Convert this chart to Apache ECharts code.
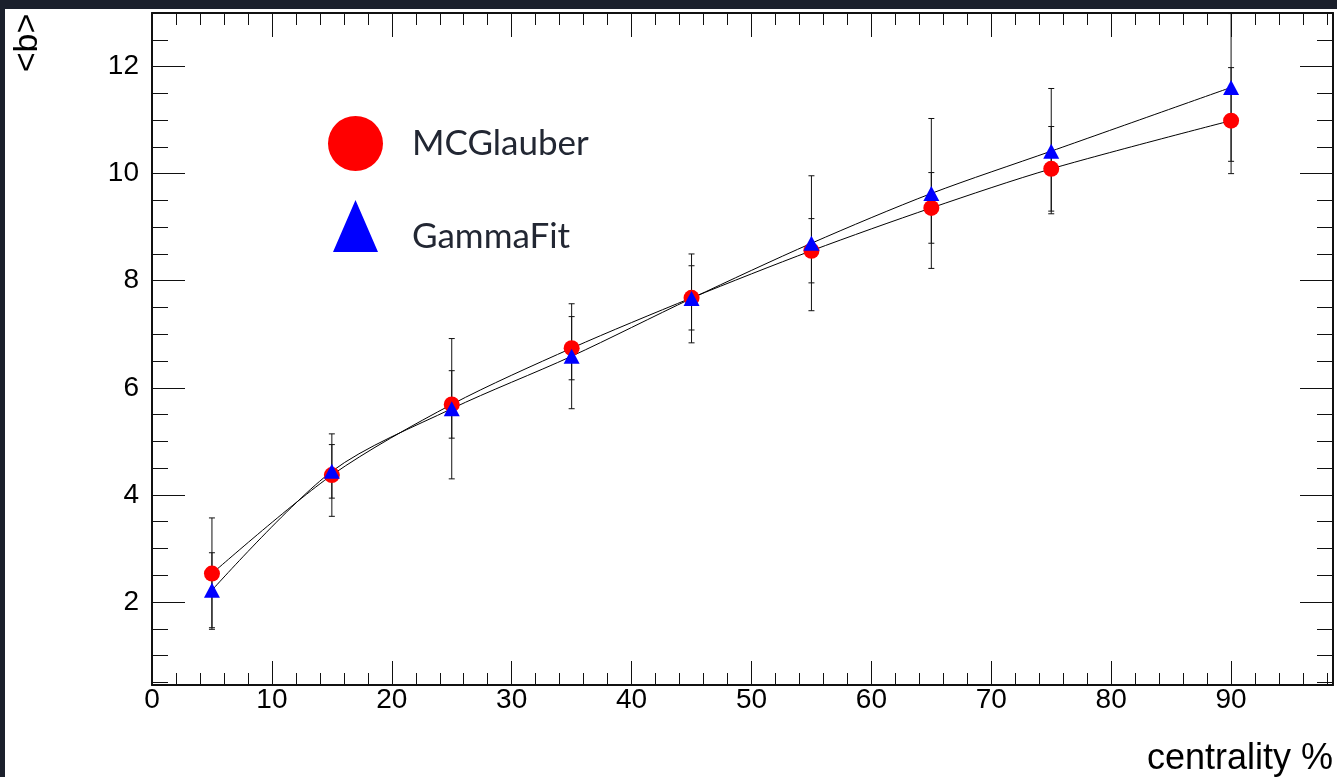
<!DOCTYPE html>
<html>
<head>
<meta charset="utf-8">
<script src="https://cdn.jsdelivr.net/npm/echarts@6/dist/echarts.min.js"></script>
<style>
  html, body { margin:0; padding:0; width:1337px; height:777px; background:#1b202c; overflow:hidden; }
  #chart { position:absolute; left:5px; top:9px; width:1332px; height:768px; background:#ffffff; }
</style>
</head>
<body>
<div id="chart"></div>
<script>
// ---- data ----
const centrality     = [5, 15, 25, 35, 45, 55, 65, 75, 90];
const mcglauberB     = [2.53, 4.37, 5.69, 6.74, 7.68, 8.56, 9.36, 10.09, 10.99];
const mcglauberErr   = [1.04, 0.77, 0.63, 0.59, 0.60, 0.60, 0.66, 0.79, 0.99];
const gammafitB      = [2.22, 4.44, 5.61, 6.59, 7.67, 8.70, 9.63, 10.42, 11.61];
const gammafitErr    = [0.70, 0.50, 1.31, 0.98, 0.83, 1.26, 1.40, 1.17, 1.38];
const xMajorTicks    = [0, 10, 20, 30, 40, 50, 60, 70, 80, 90];
const xMinorTicks    = [2,4,6,8,12,14,16,18,22,24,26,28,32,34,36,38,42,44,46,48,52,54,56,58,62,64,66,68,72,74,76,78,82,84,86,88,92,94,96,98];
const yMajorTicks    = [2, 4, 6, 8, 10, 12];
const yMinorTicks    = [0.5,1,1.5,2.5,3,3.5,4.5,5,5.5,6.5,7,7.5,8.5,9,9.5,10.5,11,11.5,12.5];
const xRange = [0, 98.5];
const yRange = [0.45, 13.0];

const pts = (xs, ys) => xs.map((x, i) => [x, ys[i]]);
const errPts = (xs, ys, es) => xs.map((x, i) => [x, ys[i], es[i]]);

const AX = '#111111';
const FONT = 'Liberation Sans';

function xAxisDef(pos, vals, len, showLine, labels) {
  return {
    type: 'value', position: pos, min: xRange[0], max: xRange[1],
    axisLine: { show: showLine, onZero: false, lineStyle: { color: AX, width: 2 } },
    axisTick: { show: true, inside: true, length: len, customValues: vals, lineStyle: { color: AX, width: 1 } },
    axisLabel: labels ? { show: true, customValues: vals, fontFamily: FONT, fontSize: 28, color: '#000', margin: 1 } : { show: false },
    splitLine: { show: false }
  };
}
function yAxisDef(pos, vals, len, showLine, labels) {
  return {
    type: 'value', position: pos, min: yRange[0], max: yRange[1],
    axisLine: { show: showLine, onZero: false, lineStyle: { color: AX, width: 2 } },
    axisTick: { show: true, inside: true, length: len, customValues: vals, lineStyle: { color: AX, width: 1 } },
    axisLabel: labels ? { show: true, customValues: vals, fontFamily: FONT, fontSize: 28, color: '#000', margin: 13 } : { show: false },
    splitLine: { show: false }
  };
}

function errorBarSeries(name, data) {
  return {
    type: 'custom', name: name, xAxisIndex: 0, yAxisIndex: 0, z: 3, clip: true,
    data: data,
    renderItem: function (params, api) {
      const x = api.value(0), y = api.value(1), e = api.value(2);
      const hi = api.coord([x, y + e]);
      const lo = api.coord([x, y - e]);
      const cap = 3;
      const st = { stroke: '#111', lineWidth: 1 };
      return {
        type: 'group',
        children: [
          { type: 'line', shape: { x1: hi[0], y1: hi[1], x2: lo[0], y2: lo[1] }, style: st },
          { type: 'line', shape: { x1: hi[0] - cap, y1: hi[1], x2: hi[0] + cap, y2: hi[1] }, style: st },
          { type: 'line', shape: { x1: lo[0] - cap, y1: lo[1], x2: lo[0] + cap, y2: lo[1] }, style: st }
        ]
      };
    }
  };
}

const chart = echarts.init(document.getElementById('chart'), null, { renderer: 'canvas' });
chart.setOption({
  animation: false,
  backgroundColor: '#ffffff',
  grid: { left: 147, top: 4, right: 4, bottom: 92, containLabel: false },
  xAxis: [
    xAxisDef('bottom', xMajorTicks, 24, true, true),
    xAxisDef('bottom', xMinorTicks, 12, false, false),
    xAxisDef('top', xMajorTicks, 24, true, false),
    xAxisDef('top', xMinorTicks, 12, false, false)
  ],
  yAxis: [
    yAxisDef('left', yMajorTicks, 33, true, true),
    yAxisDef('left', yMinorTicks, 16, false, false),
    yAxisDef('right', yMajorTicks, 33, true, false),
    yAxisDef('right', yMinorTicks, 16, false, false)
  ],
  legend: [
    {
      data: ['MCGlauber'], left: 323, top: 107, padding: 0, orient: 'vertical', selectedMode: false,
      icon: 'circle', itemWidth: 55, itemHeight: 55,
      textStyle: { fontFamily: 'Lato', fontSize: 35, color: '#222733', padding: [0, 0, 0, 24] }
    },
    {
      data: ['GammaFit'], left: 328, top: 191, padding: 0, orient: 'vertical', selectedMode: false,
      // triangle occupying the top 52px of a 74px-tall icon box, so the label sits lower
      icon: 'path://M22.5,0 L45,52 L0,52 Z M22.5,74 L22.5,74 Z', itemWidth: 45, itemHeight: 74,
      textStyle: { fontFamily: 'Lato', fontSize: 35, color: '#222733', padding: [0, 0, 0, 29] }
    }
  ],
  graphic: [
    { type: 'text', x: 23, y: 34, rotation: Math.PI / 2,
      style: { text: '<b>', font: '34px "Liberation Sans"', fill: '#000', align: 'center', verticalAlign: 'middle' } },
    { type: 'text', x: 1328, y: 750,
      style: { text: 'centrality %', font: '36px "Liberation Sans"', fill: '#000', align: 'right', verticalAlign: 'middle' } }
  ],
  series: [
    { type: 'line', name: 'MCGlauber curve', data: pts(centrality, mcglauberB), smooth: 0.3, showSymbol: false, symbol: 'none',
      lineStyle: { color: '#000', width: 1 }, z: 2, silent: true },
    { type: 'line', name: 'GammaFit curve', data: pts(centrality, gammafitB), smooth: 0.3, showSymbol: false, symbol: 'none',
      lineStyle: { color: '#000', width: 1 }, z: 2, silent: true },
    errorBarSeries('MCGlauber err', errPts(centrality, mcglauberB, mcglauberErr)),
    errorBarSeries('GammaFit err', errPts(centrality, gammafitB, gammafitErr)),
    { type: 'scatter', name: 'MCGlauber', data: pts(centrality, mcglauberB), symbol: 'circle', symbolSize: 16,
      itemStyle: { color: '#ff0000', opacity: 1 }, z: 4 },
    { type: 'scatter', name: 'GammaFit', data: pts(centrality, gammafitB), symbol: 'triangle', symbolSize: [16, 15],
      itemStyle: { color: '#0000ff', opacity: 1 }, z: 5 }
  ]
});
</script>
</body>
</html>
